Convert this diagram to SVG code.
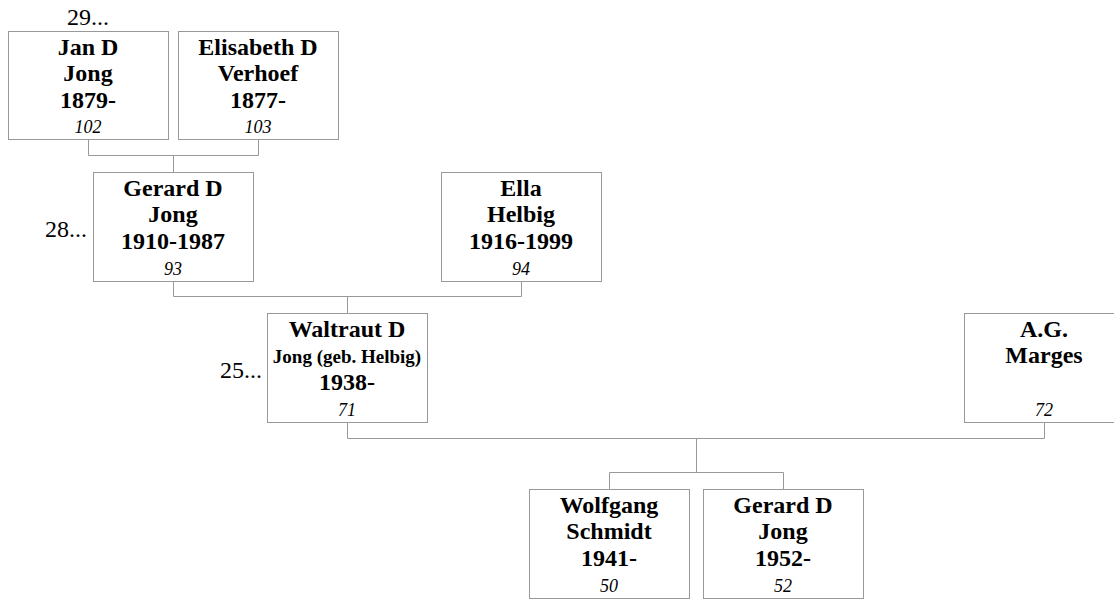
<svg xmlns="http://www.w3.org/2000/svg" width="1114" height="599" viewBox="0 0 1114 599">
<style>
.box{fill:#fff;stroke:#999;stroke-width:1}
text{font-family:'Liberation Serif','Times New Roman',Times,serif;fill:#000}
.n{font-weight:bold;font-size:24px;text-anchor:middle}
.s{font-size:19px}
.id{font-style:italic;font-size:18px;text-anchor:middle}
.g{font-size:24px}
.c{fill:none;stroke:#999;stroke-width:1}
</style>
<rect width="1114" height="599" fill="#fff"/>
<g id="connectors">
<path class="c" d="M88.5 139.5V155.5H258.5V139.5M173.5 155.5V172.5"/>
<path class="c" d="M173.5 281.5V296.5H521.5V281.5M347.5 296.5V313.5"/>
<path class="c" d="M347.5 422.5V438.5H1044.5V422.5M696.5 438.5V472.5M609.5 489.5V472.5H783.5V489.5"/>
</g>
<g id="gen-labels">
<text class="g" x="88" y="25" text-anchor="middle">29...</text>
<text class="g" x="87" y="237" text-anchor="end">28...</text>
<text class="g" x="262" y="378" text-anchor="end">25...</text>
</g>
<g id="p102">
<rect class="box" x="8.5" y="31.5" width="160" height="108"/>
<text class="n" x="88" y="55">Jan D</text>
<text class="n" x="88" y="81">Jong</text>
<text class="n" x="88" y="108">1879-</text>
<text class="id" x="88" y="133">102</text>
</g>
<g id="p103">
<rect class="box" x="178.5" y="31.5" width="160" height="108"/>
<text class="n" x="258" y="55">Elisabeth D</text>
<text class="n" x="258" y="81">Verhoef</text>
<text class="n" x="258" y="108">1877-</text>
<text class="id" x="258" y="133">103</text>
</g>
<g id="p93">
<rect class="box" x="93.5" y="172.5" width="160" height="109"/>
<text class="n" x="173" y="196">Gerard D</text>
<text class="n" x="173" y="222">Jong</text>
<text class="n" x="173" y="249">1910-1987</text>
<text class="id" x="173" y="275">93</text>
</g>
<g id="p94">
<rect class="box" x="441.5" y="172.5" width="160" height="109"/>
<text class="n" x="521" y="196">Ella</text>
<text class="n" x="521" y="222">Helbig</text>
<text class="n" x="521" y="249">1916-1999</text>
<text class="id" x="521" y="275">94</text>
</g>
<g id="p71">
<rect class="box" x="267.5" y="313.5" width="160" height="109"/>
<text class="n" x="347" y="337">Waltraut D</text>
<text class="n s" x="347" y="363">Jong (geb. Helbig)</text>
<text class="n" x="347" y="390">1938-</text>
<text class="id" x="347" y="416">71</text>
</g>
<g id="p72">
<rect class="box" x="964.5" y="313.5" width="160" height="109"/>
<text class="n" x="1044" y="337">A.G.</text>
<text class="n" x="1044" y="363">Marges</text>
<text class="id" x="1044" y="416">72</text>
</g>
<g id="p50">
<rect class="box" x="529.5" y="489.5" width="160" height="109"/>
<text class="n" x="609" y="513">Wolfgang</text>
<text class="n" x="609" y="539">Schmidt</text>
<text class="n" x="609" y="566">1941-</text>
<text class="id" x="609" y="592">50</text>
</g>
<g id="p52">
<rect class="box" x="703.5" y="489.5" width="160" height="109"/>
<text class="n" x="783" y="513">Gerard D</text>
<text class="n" x="783" y="539">Jong</text>
<text class="n" x="783" y="566">1952-</text>
<text class="id" x="783" y="592">52</text>
</g>
</svg>
